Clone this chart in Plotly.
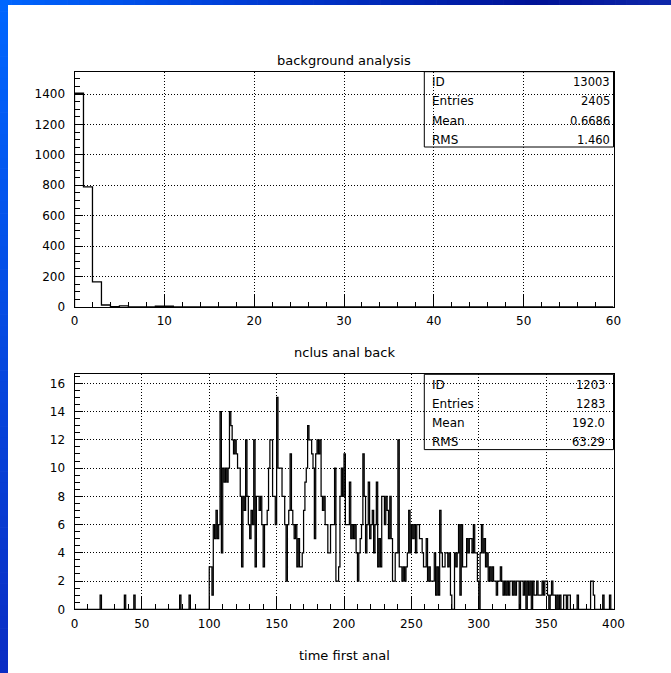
import plotly.graph_objects as go

W, H = 671, 673

# ---------------- data ----------------
top_title = "background analysis"
top_xtitle = "nclus anal back"
top_counts = [1405, 790, 165, 13, 3, 7, 0, 0, 0, 5, 5] + [0] * 49   # 60 bins, width 1, 0..60
top_stats_labels = ["ID", "Entries", "Mean", "RMS"]
top_stats_values = ["13003", "2405", "0.6686", "1.460"]

bot_xtitle = "time first anal"
bot_low = {19: 1, 37: 1, 44: 1, 78: 1, 85: 1}   # sparse counts below 100
bot_100_199 = [3, 3, 1, 6, 5, 7, 5, 6, 14, 4, 10, 9, 10, 9, 10, 14, 13, 12, 11, 12,
               11, 10, 10, 8, 3, 8, 7, 12, 8, 6, 5, 7, 6, 12, 3, 8, 8, 7, 8, 6,
               3, 6, 6, 7, 10, 12, 12, 8, 8, 6, 15, 10, 10, 10, 8, 8, 6, 2, 6, 7,
               11, 7, 6, 5, 6, 3, 5, 3, 3, 4, 7, 9, 10, 13, 12, 12, 11, 10, 5, 11,
               12, 11, 12, 8, 7, 8, 6, 6, 4, 4, 6, 6, 6, 10, 2, 2, 3, 8, 10, 8]
bot_200_299 = [11, 6, 6, 6, 9, 5, 6, 5, 6, 4, 2, 4, 5, 6, 11, 8, 4, 6, 9, 5,
               6, 7, 4, 6, 9, 3, 5, 3, 8, 8, 6, 8, 7, 5, 8, 5, 2, 2, 4, 4,
               12, 3, 3, 2, 3, 2, 3, 4, 7, 4, 6, 5, 6, 4, 6, 6, 5, 5, 4, 3,
               3, 5, 2, 3, 2, 2, 2, 4, 1, 3, 1, 7, 4, 3, 3, 4, 4, 3, 4, 1,
               0, 0, 4, 3, 4, 6, 1, 6, 3, 3, 3, 5, 4, 5, 5, 4, 6, 4, 4, 2]
bot_300_399 = [0, 4, 6, 4, 5, 3, 4, 2, 3, 2, 3, 2, 2, 1, 2, 2, 3, 2, 1, 2,
               1, 2, 1, 2, 2, 1, 2, 1, 2, 2, 0, 2, 2, 1, 2, 0, 2, 1, 2, 0,
               2, 1, 1, 2, 1, 1, 1, 2, 1, 2, 2, 1, 0, 1, 2, 1, 1, 0, 1, 0,
               1, 0, 0, 1, 1, 0, 1, 1, 0, 0, 0, 0, 0, 1, 0, 0, 0, 0, 0, 0,
               0, 0, 0, 2, 2, 1, 0, 0, 0, 0, 0, 0, 1, 0, 0, 0, 0, 1, 0, 0]
bot_stats_labels = ["ID", "Entries", "Mean", "RMS"]
bot_stats_values = ["1203", "1283", "192.0", "63.29"]

top_xticks = [0, 10, 20, 30, 40, 50, 60]
top_yticks = [0, 200, 400, 600, 800, 1000, 1200, 1400]
bot_xticks = [0, 50, 100, 150, 200, 250, 300, 350, 400]
bot_yticks = [0, 2, 4, 6, 8, 10, 12, 14, 16]

bot_counts = [bot_low.get(i, 0) for i in range(100)] + bot_100_199 + bot_200_299 + bot_300_399


def step(counts):
    xs = [0] + list(range(len(counts) + 1)) + [len(counts)]
    ys = [0] + list(counts) + [counts[-1], 0]
    return xs, ys


# ---------------- geometry helpers ----------------
def fx(p):
    return p / W


def fy(p):
    return 1 - p / H


FX0, FX1 = 74.5, 613.5
T_TOP, T_BOT = 71.7, 307.0
B_TOP, B_BOT = 374.3, 609.3

FONT = "DejaVu Sans"

fig = go.Figure()
tx, ty = step(top_counts)
fig.add_trace(go.Scatter(x=tx, y=ty, mode="lines", line=dict(color="black", width=1.3, shape="hv"),
                         xaxis="x", yaxis="y", hoverinfo="skip", showlegend=False))
bx, by = step(bot_counts)
fig.add_trace(go.Scatter(x=bx, y=by, mode="lines", line=dict(color="black", width=1.25, shape="hv"),
                         xaxis="x2", yaxis="y2", hoverinfo="skip", showlegend=False))

common = dict(showline=True, mirror=True, linecolor="black", linewidth=1, ticks="inside",
              tickcolor="black", tickwidth=1, showgrid=True, gridcolor="black", griddash="1px,2px",
              gridwidth=1, zeroline=False, tickfont=dict(family=FONT, size=12, color="black"),
              fixedrange=True, automargin=False)

fig.update_layout(
    width=W, height=H, margin=dict(l=0, r=0, t=0, b=0, autoexpand=False),
    paper_bgcolor="white", plot_bgcolor="white", showlegend=False,
    xaxis=dict(domain=[fx(FX0), fx(FX1)], range=[0, 60], anchor="y", tickvals=top_xticks,
               ticklen=12, ticklabelstandoff=3,
               minor=dict(dtick=2, tick0=0, ticks="inside", ticklen=5, tickcolor="black", showgrid=False),
               **common),
    yaxis=dict(domain=[fy(T_BOT), fy(T_TOP)], range=[0, 1546.6], anchor="x", tickvals=top_yticks,
               ticklen=8, ticklabelstandoff=6,
               minor=dict(dtick=50, tick0=0, ticks="inside", ticklen=5, tickcolor="black", showgrid=False),
               **common),
    xaxis2=dict(domain=[fx(FX0), fx(FX1)], range=[0, 400], anchor="y2", tickvals=bot_xticks,
                ticklen=12, ticklabelstandoff=3,
                minor=dict(dtick=10, tick0=0, ticks="inside", ticklen=5, tickcolor="black", showgrid=False),
                **common),
    yaxis2=dict(domain=[fy(B_BOT), fy(B_TOP)], range=[0, 16.64], anchor="x2", tickvals=bot_yticks,
                ticklen=8, ticklabelstandoff=6,
                minor=dict(dtick=0.5, tick0=0, ticks="inside", ticklen=5, tickcolor="black", showgrid=False),
                **common),
)

shapes = []
annots = []

# blue gradient border (top strip and left strip)
def lerp(c0, c1, t):
    return tuple(int(round(a + (b - a) * t)) for a, b in zip(c0, c1))


top_stops = [(0.0, (0, 102, 255)), (0.35, (0, 62, 215)), (0.8, (0, 18, 150)), (1.0, (15, 40, 170))]
NSEG = 60
for i in range(NSEG):
    t = (i + 0.5) / NSEG
    for (t0, c0), (t1, c1) in zip(top_stops[:-1], top_stops[1:]):
        if t0 <= t <= t1:
            c = lerp(c0, c1, (t - t0) / (t1 - t0))
            break
    shapes.append(dict(type="rect", xref="paper", yref="paper", x0=i / NSEG, x1=min(1, (i + 1) / NSEG + 0.001),
                       y0=fy(5), y1=1, fillcolor="rgb(%d,%d,%d)" % c, line=dict(width=0), layer="above"))
for i in range(NSEG):
    t = (i + 0.5) / NSEG
    c = lerp((0, 102, 255), (10, 45, 195), t)
    shapes.append(dict(type="rect", xref="paper", yref="paper", x0=0, x1=fx(8),
                       y0=max(0, 1 - (i + 1) / NSEG - 0.001), y1=1 - i / NSEG, fillcolor="rgb(%d,%d,%d)" % c,
                       line=dict(width=0), layer="above"))

# stats boxes
row_off = [10.5, 29.5, 48.8, 67.8]
for top, labels, values, vx in [(T_TOP, top_stats_labels, top_stats_values, 611.5),
                                (B_TOP, bot_stats_labels, bot_stats_values, 606.5)]:
    shapes.append(dict(type="rect", xref="paper", yref="paper", x0=fx(424.3), x1=fx(FX1),
                       y0=fy(top + 75.3), y1=fy(top), line=dict(color="black", width=1),
                       fillcolor="rgba(0,0,0,0)", layer="above"))
    for off, lab, val in zip(row_off, labels, values):
        annots.append(dict(xref="paper", yref="paper", x=fx(430), y=fy(top + off), text=lab,
                           xanchor="left", yanchor="middle", showarrow=False,
                           font=dict(family=FONT, size=12, color="black")))
        annots.append(dict(xref="paper", yref="paper", x=fx(vx), y=fy(top + off), text=val,
                           xanchor="right", yanchor="middle", showarrow=False,
                           font=dict(family=FONT, size=11.5, color="black")))

# titles
for txt, yp in [(top_title, 60), (top_xtitle, 352.5), (bot_xtitle, 655.5)]:
    annots.append(dict(xref="paper", yref="paper", x=fx(344), y=fy(yp), text=txt,
                       xanchor="center", yanchor="middle", showarrow=False,
                       font=dict(family=FONT, size=13, color="black")))

fig.update_layout(shapes=shapes, annotations=annots)
fig.write_html("out.html", config={"displayModeBar": False},
               post_script="document.body.style.margin='0px';document.body.style.overflow='hidden';"
                           "document.documentElement.style.overflow='hidden';")
